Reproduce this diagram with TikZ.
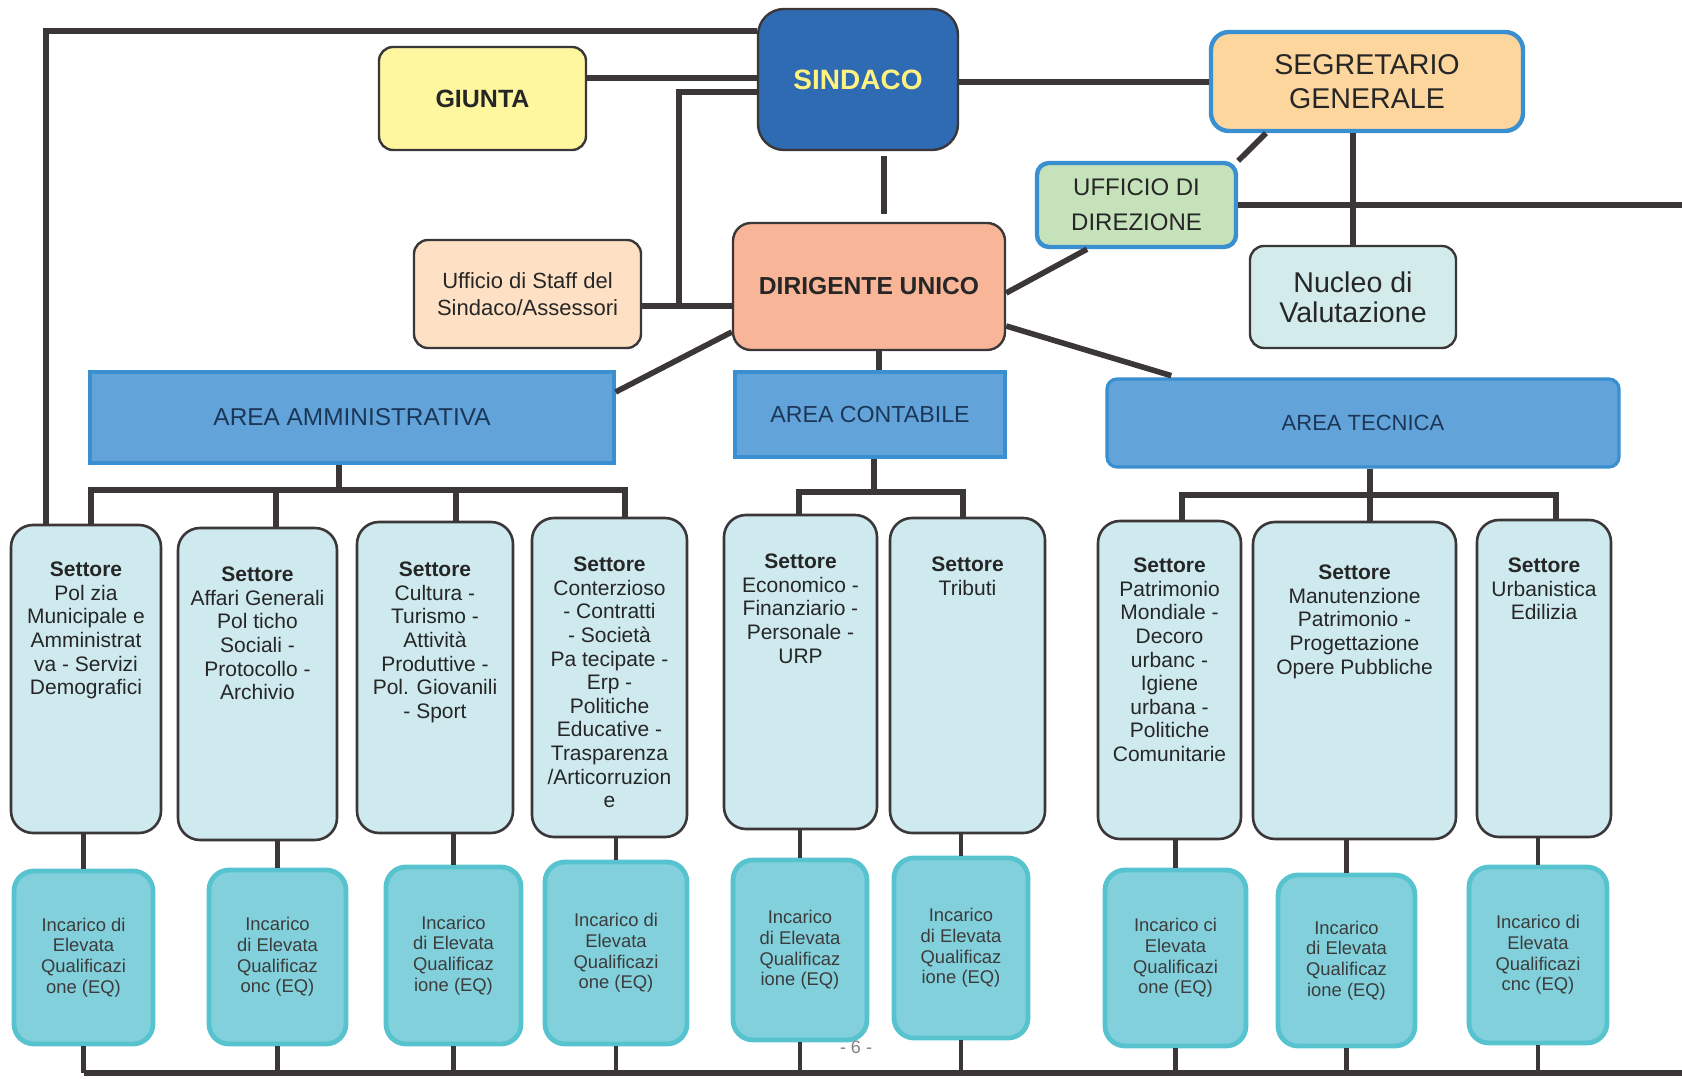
\documentclass[tikz,border=0pt]{standalone}
\usepackage{fontspec}
\setmainfont{Liberation Sans}
\definecolor{linea}{HTML}{3B3739}
\definecolor{sindacoblu}{HTML}{2E6BB3}
\definecolor{sindacotesto}{HTML}{FFF27F}
\definecolor{giallino}{HTML}{FFF6A0}
\definecolor{pesca}{HTML}{FDD69E}
\definecolor{bordoblu}{HTML}{3A8FD0}
\definecolor{verdino}{HTML}{C6E2BA}
\definecolor{acqua}{HTML}{D3ECEB}
\definecolor{salmone}{HTML}{F8B598}
\definecolor{crema}{HTML}{FEE1C5}
\definecolor{areablu}{HTML}{62A4D9}
\definecolor{areatesto}{HTML}{1C3658}
\definecolor{settorefill}{HTML}{CEEAEE}
\definecolor{incaricofill}{HTML}{82D0DC}
\definecolor{incaricobordo}{HTML}{56C3CE}
\definecolor{testoscuro}{HTML}{262626}
\tikzset{
  box/.style={draw=linea, line width=1.2pt, rounded corners=7pt, inner sep=0pt,
    align=center, text=testoscuro},
  bluebox/.style={box, draw=bordoblu, line width=2.2pt},
  area/.style={draw=bordoblu, line width=1.6pt, fill=areablu, inner sep=0pt, text=areatesto},
  settore/.style={box, line width=1.3pt, fill=settorefill, rounded corners=11pt},
  settoretesto/.style={anchor=north, inner sep=0pt, align=center, text=testoscuro,
    font=\fontsize{10.5}{11.8}\selectfont},
  incarico/.style={draw=incaricobordo, line width=2.4pt, fill=incaricofill,
    rounded corners=10pt, inner sep=0pt, align=center, text=testoscuro!90,
    font=\fontsize{9.2}{10.4}\selectfont},
  conn/.style={draw=linea, line width=2.8pt},
  thinconn/.style={conn, line width=2.2pt}
}
\begin{document}
\begin{tikzpicture}[x=0.5pt,y=-0.5pt]
\useasboundingbox (0,0) rectangle (1682,1079);

\node[box, fill=sindacoblu, rounded corners=13pt, minimum width=100pt, minimum height=70.5pt,
      text=sindacotesto, font=\bfseries\fontsize{14}{16}\selectfont] (sindaco) at (858,79.5) {SINDACO};
\node[box, fill=giallino, minimum width=103.5pt, minimum height=51.5pt,
      font=\bfseries\fontsize{12.5}{14}\selectfont] (giunta) at (482.5,98.5) {GIUNTA};
\node[bluebox, fill=pesca, rounded corners=9pt, minimum width=156pt, minimum height=49.5pt,
      font=\fontsize{14.3}{17}\selectfont] (segretario) at (1367,81.5) {SEGRETARIO\\GENERALE};
\node[bluebox, fill=verdino, rounded corners=6pt, minimum width=99.5pt, minimum height=42pt,
      font=\fontsize{12}{17.5}\selectfont] (ufficio) at (1136.5,205) {UFFICIO DI\\DIREZIONE};
\node[box, fill=acqua, minimum width=103pt, minimum height=51pt,
      font=\fontsize{14.3}{15}\selectfont] (nucleo) at (1353,297) {Nucleo di\\Valutazione};
\node[box, fill=salmone, rounded corners=9pt, minimum width=136pt, minimum height=63.5pt,
      font=\bfseries\fontsize{12.3}{14}\selectfont] (dirigente) at (869,286.5) {DIRIGENTE UNICO};
\node[box, fill=crema, minimum width=113.5pt, minimum height=54pt,
      font=\fontsize{11}{13.4}\selectfont] (staff) at (527.5,294) {Ufficio di Staff del\\Sindaco/Assessori};

\node[area, minimum width=262pt, minimum height=45.5pt,
      font=\fontsize{12.2}{14}\selectfont] (amm) at (352,417.5) {AREA AMMINISTRATIVA};
\node[area, minimum width=135pt, minimum height=42.5pt,
      font=\fontsize{11.6}{14}\selectfont] (contabile) at (870,414.5) {AREA CONTABILE};
\node[area, rounded corners=5pt, minimum width=256pt, minimum height=44pt,
      font=\fontsize{11}{14}\selectfont] (tecnica) at (1363,423) {AREA TECNICA};

\node[settore, minimum width=75pt, minimum height=154pt] (s1) at (86,679) {};
\node[settore, minimum width=79.5pt, minimum height=156pt] (s2) at (257.5,684) {};
\node[settore, minimum width=78pt, minimum height=155.5pt] (s3) at (435,677.5) {};
\node[settore, minimum width=77.5pt, minimum height=159.5pt] (s4) at (609.5,677.5) {};
\node[settore, minimum width=76.5pt, minimum height=157pt] (s5) at (800.5,672) {};
\node[settore, minimum width=77.5pt, minimum height=157.5pt] (s6) at (967.5,675.5) {};
\node[settore, minimum width=71.5pt, minimum height=159pt] (s7) at (1169.5,680) {};
\node[settore, minimum width=101.5pt, minimum height=158.5pt] (s8) at (1354.5,680.5) {};
\node[settore, minimum width=67pt, minimum height=158.5pt] (s9) at (1544,678.5) {};

\node[settoretesto] (s1t) at ([yshift=-19pt]s1.north)
  {\textbf{Settore}\\Pol zia\\Municipale e\\Amministrat\\va - Servizi\\Demografici};
\node[settoretesto] (s2t) at ([yshift=-20pt]s2.north)
  {\textbf{Settore}\\Affari Generali\\Pol ticho\\Sociali -\\Protocollo -\\Archivio};
\node[settoretesto] (s3t) at ([yshift=-20.5pt]s3.north)
  {\textbf{Settore}\\Cultura -\\Turismo -\\Attività\\Produttive -\\Pol. Giovanili\\- Sport};
\node[settoretesto] (s4t) at ([yshift=-20pt]s4.north)
  {\textbf{Settore}\\Conterzioso\\- Contratti\\- Società\\Pa tecipate -\\Erp -\\Politiche\\Educative -\\Trasparenza\\/Articorruzion\\e};
\node[settoretesto] (s5t) at ([yshift=-20pt]s5.north)
  {\textbf{Settore}\\Economico -\\Finanziario -\\Personale -\\URP};
\node[settoretesto] (s6t) at ([yshift=-20pt]s6.north)
  {\textbf{Settore}\\Tributi};
\node[settoretesto] (s7t) at ([yshift=-19pt]s7.north)
  {\textbf{Settore}\\Patrimonio\\Mondiale -\\Decoro\\urbanc -\\Igiene\\urbana -\\Politiche\\Comunitarie};
\node[settoretesto] (s8t) at ([yshift=-22pt]s8.north)
  {\textbf{Settore}\\Manutenzione\\Patrimonio -\\Progettazione\\Opere Pubbliche};
\node[settoretesto] (s9t) at ([yshift=-19.5pt]s9.north)
  {\textbf{Settore}\\Urbanistica\\Edilizia};

\node[incarico, minimum width=69.5pt, minimum height=86.5pt] (e1) at (83.5,957.5)
  {Incarico di\\Elevata\\Qualificazi\\one (EQ)};
\node[incarico, minimum width=68.5pt, minimum height=87pt] (e2) at (277.5,957)
  {Incarico\\di Elevata\\Qualificaz\\onc (EQ)};
\node[incarico, minimum width=67.5pt, minimum height=88.5pt] (e3) at (453.5,955.5)
  {Incarico\\di Elevata\\Qualificaz\\ione (EQ)};
\node[incarico, minimum width=71pt, minimum height=91pt] (e4) at (616,953)
  {Incarico di\\Elevata\\Qualificazi\\one (EQ)};
\node[incarico, minimum width=67pt, minimum height=90pt] (e5) at (800,950)
  {Incarico\\di Elevata\\Qualificaz\\ione (EQ)};
\node[incarico, minimum width=67pt, minimum height=90pt] (e6) at (961,948)
  {Incarico\\di Elevata\\Qualificaz\\ione (EQ)};
\node[incarico, minimum width=70.5pt, minimum height=88pt] (e7) at (1175.5,958)
  {Incarico ci\\Elevata\\Qualificazi\\one (EQ)};
\node[incarico, minimum width=68.5pt, minimum height=85.5pt] (e8) at (1346.5,960.5)
  {Incarico\\di Elevata\\Qualificaz\\ione (EQ)};
\node[incarico, minimum width=69pt, minimum height=88pt] (e9) at (1538,955)
  {Incarico di\\Elevata\\Qualificazi\\cnc (EQ)};

\node[text=gray, inner sep=0pt, font=\fontsize{9}{10}\selectfont] (pagina) at (856,1047) {- 6 -};

\coordinate (snodo) at (679,306);
\coordinate (bordo) at (1682,205);
\coordinate (ammbus) at (339,490);
\coordinate (contbus) at (874,492);
\coordinate (tecbus) at (1370,495);
\coordinate (fondo) at (1682,1073);

\draw[conn] (sindaco.north west |- 0,31) -| (s1.north -| 46,0);
\draw[conn] (giunta.east |- 0,78) -- (sindaco.west |- 0,78);
\draw[conn] (sindaco.west |- 0,92) -| (snodo) -- (dirigente.west |- snodo);
\draw[conn] (staff.east |- snodo) -- (snodo);
\draw[conn, shorten <=2.5pt, shorten >=4pt] (sindaco.south -| 884,0) -- (dirigente.north -| 884,0);
\draw[conn] (sindaco.east |- 0,82) -- (segretario.west |- 0,82);
\draw[conn] (segretario.south -| 1266,0) -- (ufficio.north east);
\draw[conn] (nucleo.north |- segretario.south) -- (nucleo.north);
\draw[conn] (ufficio.east) -- (bordo);
\draw[conn] (ufficio.south -| 1087,0) -- (dirigente.east |- 0,293);

\draw[conn] (dirigente.west |- 0,332) -- (amm.east |- 0,392);
\draw[conn] (dirigente.south -| 879,0) -- (contabile.north -| 879,0);
\draw[conn, shorten >=3pt] (dirigente.east |- 0,326) -- (tecnica.north -| 1177,0);

\draw[conn] (amm.south -| ammbus) -- (ammbus);
\draw[conn] (s1.north -| 91,0) |- (ammbus) -| (s4.north -| 625,0);
\draw[conn] (s2.north -| 276,0) -- (ammbus -| 276,0);
\draw[conn] (s3.north -| 456,0) -- (ammbus -| 456,0);

\draw[conn] (contabile.south -| contbus) -- (contbus);
\draw[conn] (s5.north -| 799,0) |- (contbus) -| (s6.north -| 963,0);

\draw[conn] (tecnica.south -| tecbus) -- (s8.north -| tecbus);
\draw[conn] (s7.north -| 1182,0) |- (tecbus) -| (s9.north -| 1556,0);

\draw[thinconn] (e1.north |- s1.south) -- (e1.north)
  (e2.north |- s2.south) -- (e2.north)
  (e3.north |- s3.south) -- (e3.north)
  (e4.north |- s4.south) -- (e4.north)
  (e5.north |- s5.south) -- (e5.north)
  (e6.north |- s6.south) -- (e6.north)
  (e7.north |- s7.south) -- (e7.north)
  (e8.north |- s8.south) -- (e8.north)
  (e9.north |- s9.south) -- (e9.north);

\draw[conn] (e1.south |- fondo) -- (fondo);
\draw[thinconn] (e1.south) -- (e1.south |- fondo)
  (e2.south) -- (e2.south |- fondo)
  (e3.south) -- (e3.south |- fondo)
  (e4.south) -- (e4.south |- fondo)
  (e5.south) -- (e5.south |- fondo)
  (e6.south) -- (e6.south |- fondo)
  (e7.south) -- (e7.south |- fondo)
  (e8.south) -- (e8.south |- fondo)
  (e9.south) -- (e9.south |- fondo);
\end{tikzpicture}
\end{document}
